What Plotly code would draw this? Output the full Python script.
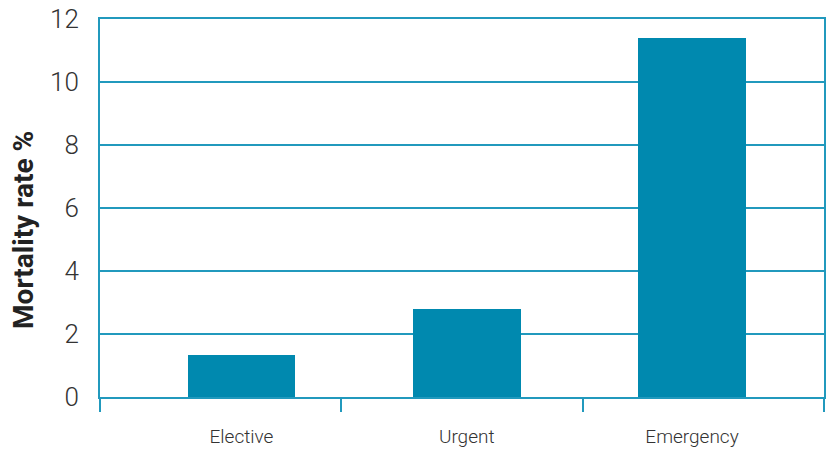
import plotly.graph_objects as go

categories = ["Elective", "Urgent", "Emergency"]
mortality = [1.32, 2.78, 11.40]
y_ticks = [0, 2, 4, 6, 8, 10, 12]
x_positions = [0, 1, 2]
x_boundaries = [-0.628, 0.443, 1.514, 2.586]

BAR = "#0089AF"
LINE = "#2199BD"
TXT = "#333333"

fig = go.Figure()
fig.add_trace(go.Bar(
    x=x_positions, y=mortality, width=0.478,
    marker=dict(color=BAR, line=dict(width=0)),
    showlegend=False, hoverinfo="skip",
))
fig.add_trace(go.Scatter(x=[x_boundaries[0], x_boundaries[-1]], y=[0, 0],
                         xaxis="x2", mode="markers", marker=dict(opacity=0),
                         showlegend=False, hoverinfo="skip"))

xr = [x_boundaries[0], x_boundaries[-1]]
fig.update_layout(
    width=829, height=452,
    margin=dict(l=100, r=3, t=19, b=55),
    plot_bgcolor="white", paper_bgcolor="white",
    bargap=0,
    xaxis=dict(
        range=xr, tickvals=x_positions, ticktext=categories,
        ticks="", showgrid=False, zeroline=False,
        showline=True, linecolor=LINE, linewidth=2, mirror=True,
        tickfont=dict(family="Roboto", size=19, color=TXT, weight=300),
        ticklabelstandoff=21,
    ),
    xaxis2=dict(
        range=xr, overlaying="x", side="bottom", anchor="y",
        tickvals=x_boundaries, ticks="outside", ticklen=14, tickwidth=2,
        tickcolor=LINE, showticklabels=False, showgrid=False,
        zeroline=False, showline=False,
    ),
    yaxis=dict(
        range=[0, 12], tickvals=y_ticks, ticks="",
        showgrid=True, gridcolor=LINE, gridwidth=2,
        zeroline=False, showline=True, linecolor=LINE, linewidth=2, mirror=True,
        tickfont=dict(family="Roboto", size=26, color=TXT, weight=300),
        ticklabelstandoff=14,
    ),
    annotations=[dict(
        text="<b>Mortality rate %</b>", textangle=-90,
        xref="paper", yref="paper", x=-0.105, y=0.442, xanchor="center", yanchor="middle",
        showarrow=False,
        font=dict(family="Roboto", size=28, color="#222222"),
    )],
)

fig.write_html("out.html")
